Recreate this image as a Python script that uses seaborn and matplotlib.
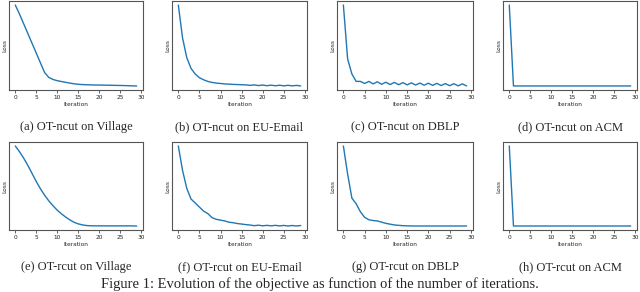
# Loss vs iteration for OT-ncut / OT-rcut on four datasets
import numpy as np
import pandas as pd
import seaborn as sns
import matplotlib
matplotlib.use("Agg")
import matplotlib.pyplot as plt

# iterations 0..29
iterations = list(range(30))

# normalized loss values (no y scale shown)
ncut_village = [1.0, 0.89, 0.77, 0.65, 0.53, 0.41, 0.29, 0.17, 0.11, 0.085,
                0.07, 0.06, 0.05, 0.04, 0.032, 0.026, 0.022, 0.02, 0.018, 0.017,
                0.016, 0.015, 0.014, 0.013, 0.012, 0.011, 0.01, 0.008, 0.006, 0.005]
ncut_email = [1.0, 0.6, 0.36, 0.23, 0.16, 0.115, 0.09, 0.07, 0.058, 0.05,
              0.045, 0.04, 0.037, 0.034, 0.032, 0.03, 0.028, 0.022, 0.028, 0.02,
              0.026, 0.018, 0.025, 0.017, 0.024, 0.016, 0.023, 0.016, 0.022, 0.015]
ncut_dblp = [1.0, 0.35, 0.17, 0.08, 0.08, 0.055, 0.08, 0.05, 0.075, 0.045,
             0.07, 0.042, 0.068, 0.04, 0.065, 0.038, 0.062, 0.036, 0.06, 0.034,
             0.058, 0.032, 0.056, 0.03, 0.054, 0.028, 0.052, 0.026, 0.05, 0.025]
ncut_acm = [1.0] + [0.0] * 29

rcut_village = [1.0, 0.93, 0.85, 0.76, 0.66, 0.56, 0.47, 0.39, 0.32, 0.26,
                0.205, 0.16, 0.12, 0.085, 0.055, 0.035, 0.022, 0.014, 0.011, 0.01,
                0.01, 0.01, 0.009, 0.01, 0.009, 0.01, 0.009, 0.01, 0.009, 0.008]
rcut_email = [1.0, 0.7, 0.48, 0.35, 0.3, 0.25, 0.2, 0.17, 0.12, 0.1,
              0.09, 0.08, 0.065, 0.058, 0.048, 0.042, 0.035, 0.03, 0.022, 0.028,
              0.02, 0.026, 0.02, 0.026, 0.019, 0.025, 0.018, 0.024, 0.018, 0.024]
rcut_dblp = [1.0, 0.65, 0.35, 0.28, 0.18, 0.11, 0.08, 0.07, 0.065, 0.05,
             0.035, 0.025, 0.015, 0.01, 0.006, 0.004, 0.003, 0.002, 0.002, 0.002,
             0.002, 0.002, 0.002, 0.002, 0.002, 0.002, 0.002, 0.002, 0.002, 0.002]
rcut_acm = [1.0] + [0.0] * 29

series = [ncut_village, ncut_email, ncut_dblp, ncut_acm,
          rcut_village, rcut_email, rcut_dblp, rcut_acm]
captions = ["(a) OT-ncut on Village", "(b) OT-ncut on EU-Email",
            "(c) OT-ncut on DBLP", "(d) OT-ncut on ACM",
            "(e) OT-rcut on Village", "(f) OT-rcut on EU-Email",
            "(g) OT-rcut on DBLP", "(h) OT-rcut on ACM"]
fig_caption = "Figure 1: Evolution of the objective as function of the number of iterations."

sns.set_style("ticks")
W, H = 640, 292
fig = plt.figure(figsize=(W / 100, H / 100), dpi=100)

# axes boxes in pixels: left, right
cols = [(9, 143), (172, 307), (337, 473), (503, 637)]
rows = [(1, 90), (142, 230)]
cap_y = [127, 267]

for i, (vals, cap) in enumerate(zip(series, captions)):
    r, c = divmod(i, 4)
    l, rr = cols[c]
    t, b = rows[r]
    ax = fig.add_axes([l / W, 1 - b / H, (rr - l) / W, (b - t) / H])
    df = pd.DataFrame({"Iteration": iterations, "Loss": vals})
    sns.lineplot(data=df, x="Iteration", y="Loss", ax=ax, color="#1f77b4", linewidth=1)
    ax.set_xlim(-1.5, 30.5)
    ax.set_xticks(range(0, 31, 5))
    ax.set_yticks([])
    ax.tick_params(axis="x", labelsize=4.2, length=2, width=0.5, pad=1.5, colors="#222")
    ax.set_xlabel("Iteration", fontsize=4.2, labelpad=1.5)
    ax.set_ylabel("Loss", fontsize=4.2, labelpad=1.5)
    for s in ax.spines.values():
        s.set_linewidth(0.8)
        s.set_color("#555")
    fig.text((l + rr) / 2 / W, 1 - cap_y[r] / H, cap, ha="center", va="center",
             fontsize=9, family="Liberation Serif")

fig.text(0.5, 1 - 284 / H, fig_caption, ha="center", va="center",
         fontsize=10.5, family="Liberation Serif")

fig.savefig("out.png", dpi=100)
